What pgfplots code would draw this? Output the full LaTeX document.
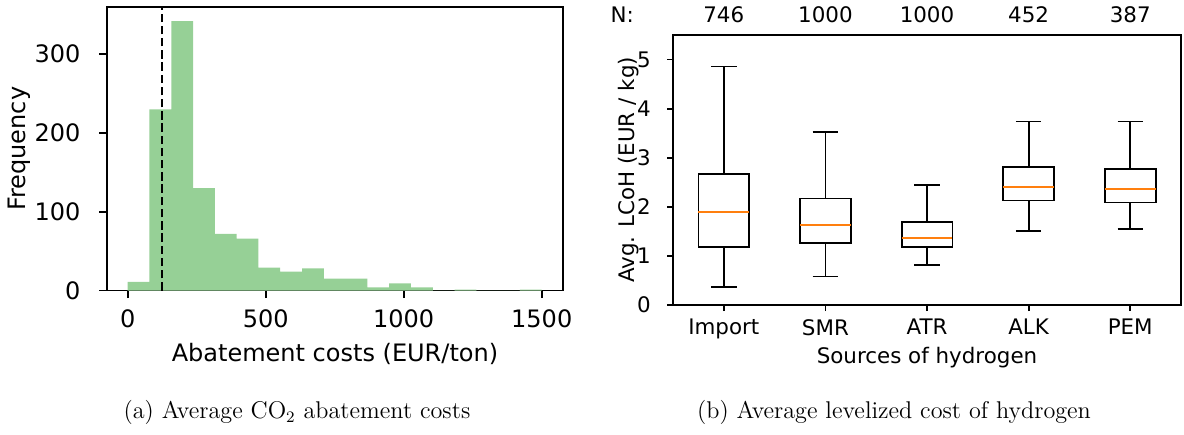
\documentclass[border=0pt]{standalone}
\usepackage{fontspec}
\usepackage{pgfplots}
\pgfplotsset{compat=1.18}
\usepgfplotslibrary{statistics}
\newfontfamily\dejavu{DejaVu Sans}
\definecolor{histgreen}{RGB}{150,208,150}
\definecolor{mplorange}{RGB}{255,127,14}
\newcommand{\histfont}{\dejavu\fontsize{12}{14}\selectfont}
\newcommand{\boxfont}{\dejavu\fontsize{10.7}{13}\selectfont}
\begin{document}
\begin{tikzpicture}
\useasboundingbox (-53.5pt,-71.75pt) rectangle (538.5pt,145.25pt);
\pgfplotsset{
  every axis/.append style={
    scale only axis,
    axis line style={line width=0.9pt},
    every tick/.style={line width=0.9pt, black},
    tick align=outside,
    tick pos=left,
    /pgf/number format/assume math mode=true,
    /pgf/number format/1000 sep={},
  }
}
\begin{axis}[at={(0,0)}, anchor=south west,
  font=\histfont,
  tick label style={font=\histfont},
  label style={font=\histfont},
  major tick length=3.8pt,
  xticklabel shift=2.2pt,
  yticklabel shift=6pt,
  width=228pt, height=141.75pt,
  xmin=-75, xmax=1577, ymin=0, ymax=360,
  xtick={0,500,1000,1500}, ytick={0,100,200,300},
  xlabel={Abatement costs (EUR/ton)}, ylabel={Frequency},
  xlabel style={at={(axis description cs:0.5,-0.252)}, anchor=base},
  ylabel style={at={(axis description cs:-0.193,0.5)}, anchor=center},
]
\addplot[ybar interval, fill=histgreen, draw=none] coordinates {
(0,11) (78.95,230) (157.89,342) (236.84,130) (315.79,72) (394.74,66)
(473.68,29) (552.63,24) (631.58,28) (710.53,15) (789.47,15) (868.42,4)
(947.37,9) (1026.32,4) (1105.26,0) (1184.21,1) (1263.16,0) (1342.11,0)
(1421.05,1) (1500,1)
};
\addplot[black, line width=1.2pt, dash pattern=on 4.2pt off 1.9pt] coordinates {(125,0) (125,360)};
\end{axis}

\begin{axis}[at={(283pt,-7.25pt)}, anchor=south west,
  font=\boxfont,
  tick label style={font=\boxfont},
  label style={font=\boxfont},
  major tick length=3pt,
  xticklabel shift=0.6pt,
  yticklabel shift=4.6pt,
  width=254pt, height=135pt,
  xmin=0.5, xmax=5.5, ymin=0, ymax=5.5,
  xtick={1,2,3,4,5}, xticklabels={Import,SMR,ATR,ALK,PEM},
  ytick={0,1,2,3,4,5},
  xlabel={Sources of hydrogen}, ylabel={Avg. LCoH (EUR / kg)},
  xlabel style={at={(axis description cs:0.5,-0.216)}, anchor=base},
  ylabel style={at={(axis description cs:-0.0866,0.5)}, anchor=center},
  clip=false,
  boxplot/draw direction=y,
  boxplot/box extend=0.5,
  boxplot/whisker extend=0.25,
  boxplot/draw/median/.code={\draw[mplorange, line width=1pt] (boxplot box cs:\pgfplotsboxplotvalue{median},0) -- (boxplot box cs:\pgfplotsboxplotvalue{median},1);},
]
\addplot[black, line width=0.9pt, boxplot prepared={draw position=1, lower whisker=0.367, lower quartile=1.175, median=1.90, upper quartile=2.67, upper whisker=4.86}] coordinates {};
\addplot[black, line width=0.9pt, boxplot prepared={draw position=2, lower whisker=0.58, lower quartile=1.26, median=1.62, upper quartile=2.17, upper whisker=3.52}] coordinates {};
\addplot[black, line width=0.9pt, boxplot prepared={draw position=3, lower whisker=0.815, lower quartile=1.175, median=1.365, upper quartile=1.685, upper whisker=2.45}] coordinates {};
\addplot[black, line width=0.9pt, boxplot prepared={draw position=4, lower whisker=1.515, lower quartile=2.13, median=2.40, upper quartile=2.81, upper whisker=3.74}] coordinates {};
\addplot[black, line width=0.9pt, boxplot prepared={draw position=5, lower whisker=1.556, lower quartile=2.09, median=2.36, upper quartile=2.77, upper whisker=3.74}] coordinates {};
\node[anchor=base, font=\boxfont, yshift=6.15pt] at (axis cs:0,5.5) {N:};
\node[anchor=base, font=\boxfont, yshift=6.15pt] at (axis cs:1,5.5) {746};
\node[anchor=base, font=\boxfont, yshift=6.15pt] at (axis cs:2,5.5) {1000};
\node[anchor=base, font=\boxfont, yshift=6.15pt] at (axis cs:3,5.5) {1000};
\node[anchor=base, font=\boxfont, yshift=6.15pt] at (axis cs:4,5.5) {452};
\node[anchor=base, font=\boxfont, yshift=6.15pt] at (axis cs:5,5.5) {387};
\end{axis}

\node[anchor=base, font=\fontsize{12.1}{14}\selectfont] at (95pt,-64pt) {(a) Average CO$_2$ abatement costs};
\node[anchor=base, font=\fontsize{12.1}{14}\selectfont] at (393.5pt,-64pt) {(b) Average levelized cost of hydrogen};
\end{tikzpicture}
\end{document}
